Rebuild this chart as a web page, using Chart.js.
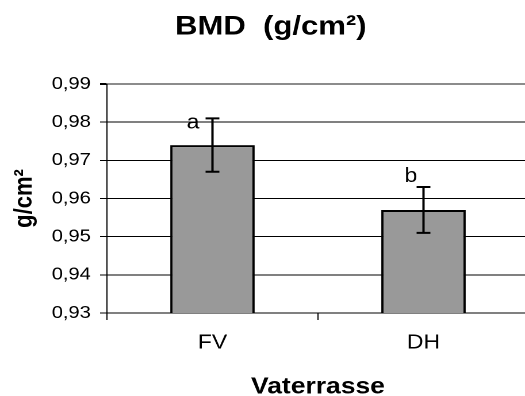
<!DOCTYPE html>
<html>
<head>
<meta charset="utf-8">
<script src="https://cdn.jsdelivr.net/npm/chart.js@4"></script>
<style>
  html, body { margin: 0; padding: 0; background: #fff; overflow: hidden; width: 525px; height: 396px; }
  /* the original picture is stretched sideways a little; reproduce that */
  #wrap { width: 471px; height: 396px; transform: scaleX(1.15); transform-origin: 0 0; }
</style>
</head>
<body>
<div id="wrap"><canvas id="chart" width="471" height="396"></canvas></div>
<script>
// values
const categories = ['FV', 'DH'];
const bmdMeans = [0.974, 0.957];
const bmdErrors = [0.007, 0.006];
const sigLetters = ['a', 'b'];
const yTicks = [0.93, 0.94, 0.95, 0.96, 0.97, 0.98, 0.99];

const FONT = '"Liberation Sans", Arial, sans-serif';

// error bars + significance letters, placed through the y scale
const errorBars = {
    id: 'errorBars',
    afterDatasetsDraw(chart, args, opts) {
        const ctx = chart.ctx;
        const y = chart.scales.y;
        const meta = chart.getDatasetMeta(0);
        ctx.save();
        ctx.strokeStyle = '#000';
        ctx.lineWidth = 2;
        meta.data.forEach((bar, i) => {
            const top = y.getPixelForValue(bmdMeans[i] + bmdErrors[i]);
            const bot = y.getPixelForValue(bmdMeans[i] - bmdErrors[i]);
            ctx.beginPath();
            ctx.moveTo(bar.x, top); ctx.lineTo(bar.x, bot);
            ctx.moveTo(bar.x - opts.cap, top); ctx.lineTo(bar.x + opts.cap, top);
            ctx.moveTo(bar.x - opts.cap, bot); ctx.lineTo(bar.x + opts.cap, bot);
            ctx.stroke();

            const off = opts.letterOffsets[i];
            ctx.fillStyle = '#000';
            ctx.font = '20px ' + FONT;
            ctx.textAlign = 'center';
            ctx.textBaseline = 'alphabetic';
            ctx.fillText(sigLetters[i], bar.x + off.dx, top + off.dy);
        });
        ctx.restore();
    }
};

new Chart(document.getElementById('chart'), {
    type: 'bar',
    data: {
        labels: categories,
        datasets: [{
            data: bmdMeans,
            backgroundColor: '#999999',
            borderColor: '#000',
            borderWidth: 2,
            categoryPercentage: 1,
            barPercentage: 0.4
        }]
    },
    options: {
        responsive: false,
        animation: false,
        devicePixelRatio: 2,
        events: [],
        layout: { padding: 0 },
        plugins: {
            legend: { display: false },
            tooltip: { enabled: false },
            title: {
                display: true,
                text: 'BMD  (g/cm²)',
                color: '#000',
                font: { family: FONT, size: 27, weight: 'bold', lineHeight: 1.2 },
                padding: { top: 11, bottom: 40.6 }
            },
            errorBars: {
                cap: 6,
                letterOffsets: [{ dx: -17, dy: 10 }, { dx: -11, dy: -5 }]
            }
        },
        scales: {
            x: {
                grid: { offset: true, drawOnChartArea: false, drawTicks: true, tickLength: 7, color: '#000' },
                border: { color: '#000', width: 1 },
                ticks: { color: '#000', padding: 11, font: { family: FONT, size: 20 } },
                title: {
                    display: true,
                    text: 'Vaterrasse',
                    color: '#000',
                    font: { family: FONT, size: 23, weight: 'bold', lineHeight: 1 },
                    padding: { top: 0, bottom: -2.5 }
                },
                afterFit: s => { s.height = 83; }
            },
            y: {
                min: 0.93,
                max: 0.99,
                afterBuildTicks: s => { s.ticks = yTicks.map(v => ({ value: v })); },
                grid: {
                    color: c => Math.abs(c.tick.value - 0.99) < 1e-6 ? '#8c8c8c' : '#000',
                    lineWidth: c => Math.abs(c.tick.value - 0.99) < 1e-6 ? 2 : 1,
                    tickColor: '#000',
                    tickLength: 6
                },
                border: { color: '#000', width: 1 },
                ticks: {
                    color: '#000',
                    padding: 8,
                    font: { family: FONT, size: 17.5 },
                    callback: v => v.toFixed(2).replace('.', ',')
                },
                title: {
                    display: true,
                    text: 'g/cm²',
                    color: '#000',
                    font: { family: FONT, size: 22, weight: 'bold', lineHeight: 1.2 },
                    padding: { top: 8, bottom: 0 }
                },
                afterFit: s => { s.width = 93; }
            },
            // empty right-hand box so the plot runs past the visible edge like the original
            yR: {
                position: 'right',
                display: true,
                grid: { display: false },
                border: { display: false },
                ticks: { display: false },
                afterFit: s => { s.width = 11; }
            }
        }
    },
    plugins: [errorBars]
});
</script>
</body>
</html>
